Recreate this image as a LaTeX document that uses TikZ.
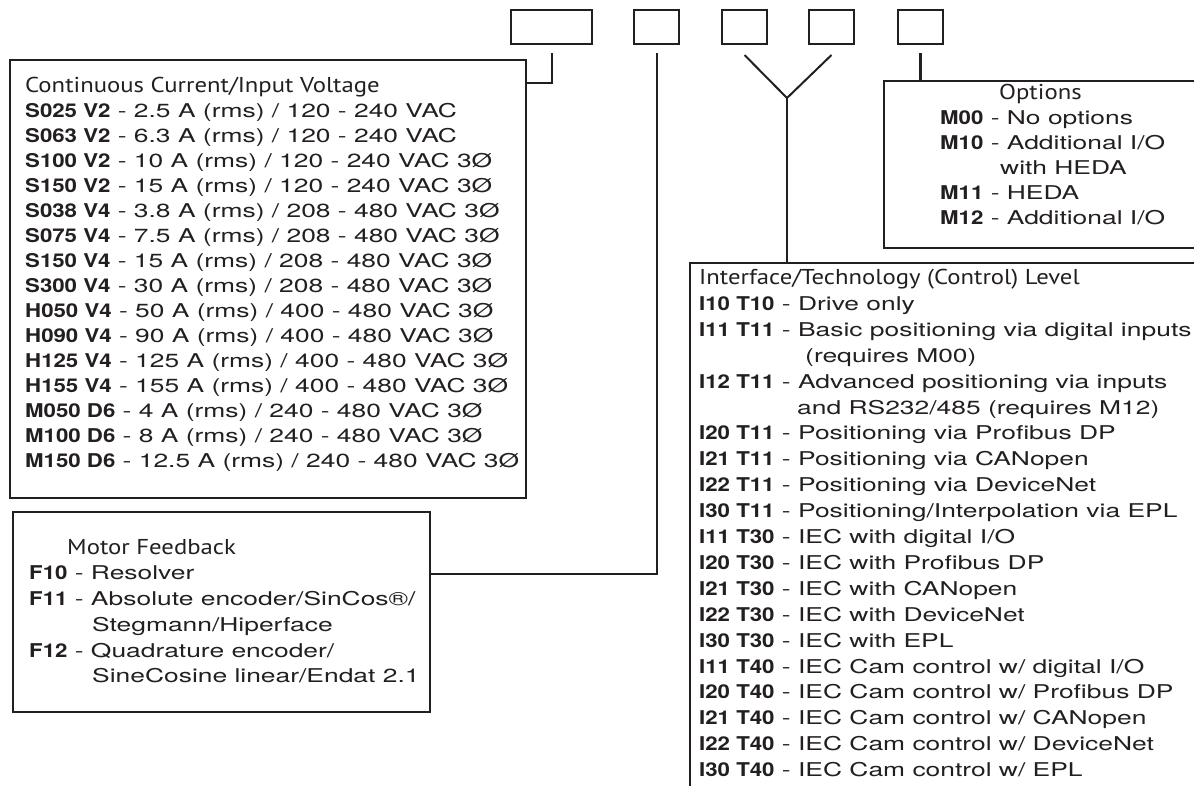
\documentclass[tikz,border=0pt]{standalone}
\usepackage{fontspec}
\setmainfont{TeX Gyre Heros}[FakeStretch=1.39]
\newfontfamily\codefont{TeX Gyre Heros}[FakeStretch=1.17]
\newfontfamily\headfont{PT Sans}[FakeStretch=1.15]
\definecolor{ink}{HTML}{231F20}

\newcommand{\cd}[1]{{\codefont\bfseries #1}}
\newcommand{\headtxt}[1]{{\headfont\fontsize{21.5}{25}\selectfont #1}}

\begin{document}
\begin{tikzpicture}[x=1pt, y=-1pt,
    codebox/.style={draw=ink, line width=2pt, minimum width=45pt, minimum height=34pt, inner sep=0pt, anchor=north west},
    listbox/.style={draw=ink, line width=2pt, inner sep=0pt, anchor=north west},
    listtext/.style={anchor=north west, inner sep=0pt, align=left, text=ink, font=\fontsize{19}{#1}\selectfont},
    link/.style={draw=ink, line width=2pt}]
  \useasboundingbox (0,0) rectangle (1194,785);
  \clip (0,0) rectangle (1194,785);

  % code boxes along the top
  \node[codebox, minimum width=81pt] (codeS) at (510,9) {};
  \node[codebox] (codeF) at (633,9) {};
  \node[codebox] (codeI) at (721,9) {};
  \node[codebox] (codeT) at (808,9) {};
  \node[codebox] (codeM) at (897,9) {};

  % boxes with the lists
  \node[listbox, minimum width=516pt, minimum height=438pt] (curbox) at (9,59) {};
  \node[listbox, minimum width=417pt, minimum height=200pt] (fbbox) at (12,511) {};
  \node[listbox, minimum width=330pt, minimum height=167pt] (optbox) at (883,80) {};
  \node[listbox, minimum width=540pt, minimum height=560pt] (techbox) at (689,262) {};

  \node[listtext=25pt] (curtext) at (25,77) {\headtxt{Continuous Current/Input Voltage}\\
    \cd{S025 V2} - 2.5 A (rms) / 120 - 240 VAC\\
    \cd{S063 V2} - 6.3 A (rms) / 120 - 240 VAC\\
    \cd{S100 V2} - 10 A (rms) / 120 - 240 VAC 3Ø\\
    \cd{S150 V2} - 15 A (rms) / 120 - 240 VAC 3Ø\\
    \cd{S038 V4} - 3.8 A (rms) / 208 - 480 VAC 3Ø\\
    \cd{S075 V4} - 7.5 A (rms) / 208 - 480 VAC 3Ø\\
    \cd{S150 V4} - 15 A (rms) / 208 - 480 VAC 3Ø\\
    \cd{S300 V4} - 30 A (rms) / 208 - 480 VAC 3Ø\\
    \cd{H050 V4} - 50 A (rms) / 400 - 480 VAC 3Ø\\
    \cd{H090 V4} - 90 A (rms) / 400 - 480 VAC 3Ø\\
    \cd{H125 V4} - 125 A (rms) / 400 - 480 VAC 3Ø\\
    \cd{H155 V4} - 155 A (rms) / 400 - 480 VAC 3Ø\\
    \cd{M050 D6} - 4 A (rms) / 240 - 480 VAC 3Ø\\
    \cd{M100 D6} - 8 A (rms) / 240 - 480 VAC 3Ø\\
    \cd{M150 D6} - 12.5 A (rms) / 240 - 480 VAC 3Ø};

  \node[listtext=25.7pt] (fbtext) at (29,539) {\hspace*{38pt}\headtxt{Motor Feedback}\\
    \cd{F10} - Resolver\\
    \cd{F11} - Absolute encoder/SinCos®/\\
    \hspace*{63pt}Stegmann/Hiperface\\
    \cd{F12} - Quadrature encoder/\\
    \hspace*{63pt}SineCosine linear/Endat 2.1};

  \node[listtext=25pt] (opttext) at (940,84) {\hspace*{59pt}\headtxt{Options}\\
    \cd{M00} - No options\\
    \cd{M10} - Additional I/O\\
    \hspace*{60pt}with HEDA\\
    \cd{M11} - HEDA\\
    \cd{M12} - Additional I/O};

  \node[listtext=25.9pt] (techtext) at (699,269) {\headtxt{Interface/Technology (Control) Level}\\
    \cd{I10 T10} - Drive only\\
    \cd{I11 T11} - Basic positioning via digital inputs\\
    \hspace*{106pt}(requires M00)\\
    \cd{I12 T11} - Advanced positioning via inputs\\
    \hspace*{98pt}and RS232/485 (requires M12)\\
    \cd{I20 T11} - Positioning via Profibus DP\\
    \cd{I21 T11} - Positioning via CANopen\\
    \cd{I22 T11} - Positioning via DeviceNet\\
    \cd{I30 T11} - Positioning/Interpolation via EPL\\
    \cd{I11 T30} - IEC with digital I/O\\
    \cd{I20 T30} - IEC with Profibus DP\\
    \cd{I21 T30} - IEC with CANopen\\
    \cd{I22 T30} - IEC with DeviceNet\\
    \cd{I30 T30} - IEC with EPL\\
    \cd{I11 T40} - IEC Cam control w/ digital I/O\\
    \cd{I20 T40} - IEC Cam control w/ Profibus DP\\
    \cd{I21 T40} - IEC Cam control w/ CANopen\\
    \cd{I22 T40} - IEC Cam control w/ DeviceNet\\
    \cd{I30 T40} - IEC Cam control w/ EPL};

  % connectors
  \coordinate (fork) at (787,98);
  \draw[link] ([yshift=-8pt]codeS.south) |- ([yshift=-24pt]curbox.north east);
  \draw[link] ([yshift=-8pt]codeF.south) |- ([yshift=-63pt]fbbox.north east);
  \draw[link] ([yshift=-10pt]codeI.south) -- (fork) -- ([yshift=-10pt]codeT.south);
  \draw[link] (fork) -- (fork |- techbox.north);
  \draw[link, line width=3pt] ([yshift=-8pt]codeM.south) -- (codeM.south |- optbox.north);
\end{tikzpicture}
\end{document}
